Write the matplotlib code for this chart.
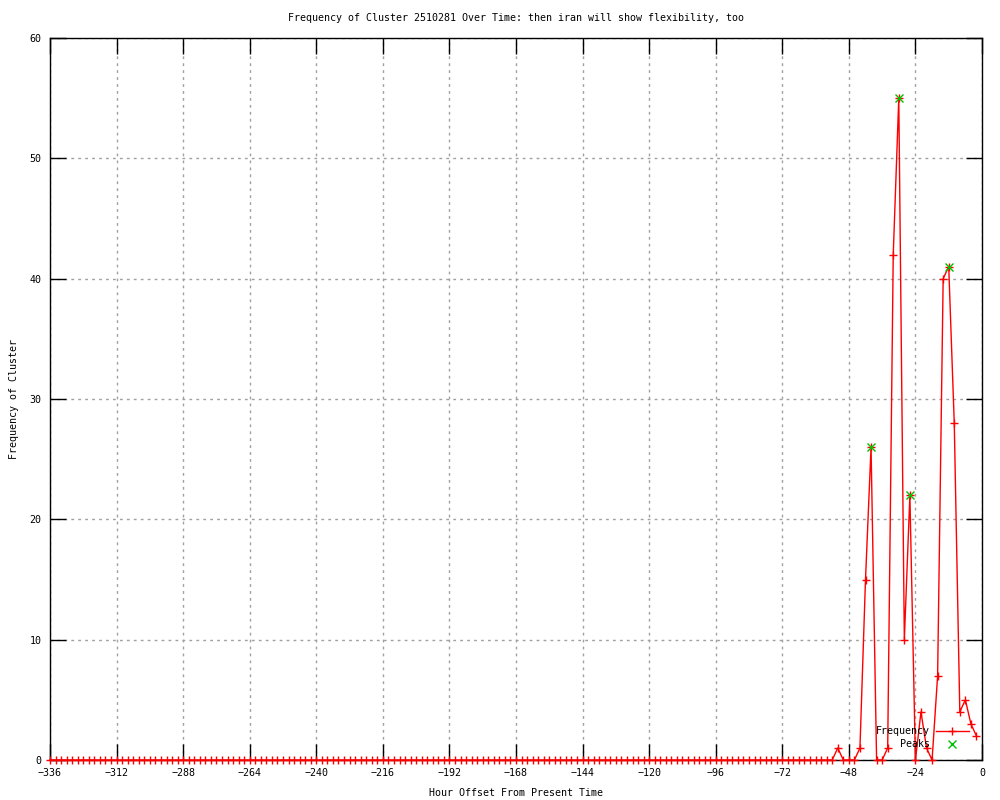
import matplotlib
matplotlib.use("Agg")
import matplotlib.pyplot as plt
import numpy as np

# hours sampled every 2h over the last two weeks
hours = list(range(-336, 0, 2))
freq = [0] * 142 + [1, 0, 0, 0, 1, 15, 26, 0, 0, 1, 42, 55, 10,
                    22, 0, 4, 1, 0, 7, 40, 41, 28, 4, 5, 3, 2]
peak_hours = [-40, -30, -26, -12]
peak_vals = [26, 55, 22, 41]

xticks = list(range(-336, 1, 24))
yticks = list(range(0, 61, 10))
title = "Frequency of Cluster 2510281 Over Time: then iran will show flexibility, too"

plt.rcParams['font.family'] = ['DejaVu Sans Mono']
plt.rcParams['font.size'] = 7.2

fig = plt.figure(figsize=(10, 8), dpi=100)
ax = fig.add_axes([0.05, 0.05, 0.932, 0.9025])

ax.plot(hours, freq, color='red', linewidth=1, marker='+', markersize=5.5,
        markeredgewidth=1, label='Frequency', clip_on=False, zorder=3)
ax.plot(peak_hours, peak_vals, linestyle='none', color='#00c000', marker='x',
        markersize=5.5, markeredgewidth=1, label='Peaks', zorder=4)

ax.set_xlim(-336, 0)
ax.set_ylim(0, 60)
ax.set_xticks(xticks)
ax.set_yticks(yticks)
ax.set_xticklabels([str(t).replace('-', '\u2212') for t in xticks])
ax.tick_params(direction='in', length=11.5, width=1, top=True, right=True,
               color='black', pad=6, labelsize=7.2)
ax.grid(True, color='#a0a0a0', linestyle=(0, (2, 3)), linewidth=1)
for s in ax.spines.values():
    s.set_linewidth(1)
    s.set_color('black')

ax.set_title(title, pad=12, fontsize=7.2)
ax.set_xlabel("Hour Offset From Present Time", labelpad=7, fontsize=7.2)
ax.set_ylabel("Frequency of Cluster", labelpad=8, fontsize=7.2)

ax.legend(loc='lower right', bbox_to_anchor=(0.9935, 0.005), markerfirst=False,
          frameon=False, handlelength=3.3, handletextpad=0.6,
          labelspacing=0.3, borderaxespad=0.3, fontsize=7.2)

fig.savefig("out.png", dpi=100)
